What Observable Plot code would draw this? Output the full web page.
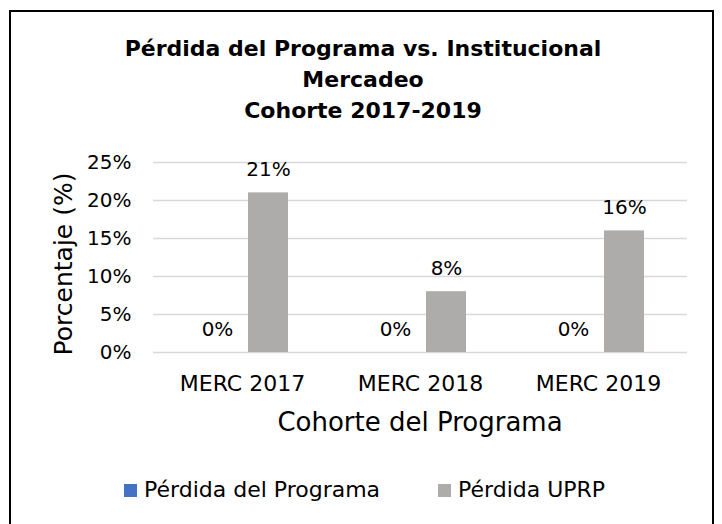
<!DOCTYPE html>
<html>
<head>
<meta charset="utf-8">
<script src="https://cdn.jsdelivr.net/npm/d3@7"></script>
<script src="https://cdn.jsdelivr.net/npm/@observablehq/plot@0.6"></script>
<style>
  html, body { margin: 0; padding: 0; background: #fff; }
  #wrap { position: relative; width: 722px; height: 524px; overflow: hidden; background: #fff; font-family: "DejaVu Sans", sans-serif; color: #000; }
  #frame { position: absolute; left: 9px; top: 10px; width: 705px; height: 600px; box-sizing: border-box; border: 2px solid #000; }
  #title { position: absolute; left: 63px; width: 600px; top: 33px; text-align: center; font-weight: bold; font-size: 22px; line-height: 31px; }
  #chart { position: absolute; left: 0; top: 130px; }
  #ytitle { position: absolute; left: 63px; top: 264px; transform: translate(-50%, -50%) rotate(-90deg); font-size: 25px; line-height: 25px; white-space: nowrap; }
  #xtitle { position: absolute; left: 120px; width: 600px; top: 409px; text-align: center; font-size: 26px; line-height: 26px; white-space: nowrap; }
  .leg { position: absolute; top: 479px; font-size: 22px; line-height: 22px; white-space: nowrap; }
  .sw { display: inline-block; width: 13px; height: 13px; margin-right: 7px; vertical-align: baseline; }
</style>
</head>
<body>
<div id="wrap">
  <div id="frame"></div>
  <div id="title"></div>
  <div id="chart"></div>
  <div id="ytitle"></div>
  <div id="xtitle"></div>
  <div id="legend"></div>
</div>
<script>
// ---- data ----
const titleLines = ["Pérdida del Programa vs. Institucional", "Mercadeo", "Cohorte 2017-2019"];
const categories = ["MERC 2017", "MERC 2018", "MERC 2019"];
const seriesNames = ["Pérdida del Programa", "Pérdida UPRP"];
const perdidaPrograma = [0, 0, 0];
const perdidaUPRP = [21, 8, 16];
const yTicks = [0, 5, 10, 15, 20, 25];
const yTitle = "Porcentaje (%)";
const xTitle = "Cohorte del Programa";
const seriesColors = ["#4472C4", "#AEABAB"];

// ---- table ----
const rows = [];
categories.forEach((c, i) => {
  rows.push({cat: c, series: seriesNames[0], value: perdidaPrograma[i]});
  rows.push({cat: c, series: seriesNames[1], value: perdidaUPRP[i]});
});

document.getElementById("title").innerHTML = titleLines.map(t => `<div>${t}</div>`).join("");
document.getElementById("ytitle").textContent = yTitle;
document.getElementById("xtitle").textContent = xTitle;

const legend = document.getElementById("legend");
const legLeft = [124, 438];
seriesNames.forEach((s, i) => {
  const d = document.createElement("div");
  d.className = "leg";
  d.style.left = legLeft[i] + "px";
  d.innerHTML = `<span class="sw" style="background:${seriesColors[i]}"></span>${s}`;
  legend.appendChild(d);
});

const chart = Plot.plot({
  width: 722,
  height: 320,
  marginTop: 32,
  marginBottom: 98,
  marginLeft: 153,
  marginRight: 35,
  style: {fontFamily: "DejaVu Sans, sans-serif", fontSize: "20px", color: "#000", background: "transparent", overflow: "visible"},
  fx: {domain: categories, padding: 0, label: null},
  x: {domain: seriesNames, paddingInner: 0.216, paddingOuter: 0.853, axis: null},
  y: {domain: [0, 25], label: null},
  color: {domain: seriesNames, range: seriesColors},
  marks: [
    Plot.gridY(yTicks, {stroke: "#D9D9D9", strokeOpacity: 1, strokeWidth: 1.6}),
    Plot.axisY(yTicks, {tickSize: 0, tickPadding: 22, tickFormat: d => d + "%", fontSize: 20, label: null}),
    Plot.axisFx({anchor: "bottom", tickSize: 0, tickPadding: 23, fontSize: 22, label: null}),
    Plot.barY(rows, {fx: "cat", x: "series", y: "value", fill: "series"}),
    Plot.text(rows, {fx: "cat", x: "series", y: "value", text: d => d.value + "%", dy: -17, lineAnchor: "bottom", fontSize: 20, fill: "#000"})
  ]
});
document.getElementById("chart").appendChild(chart);
</script>
</body>
</html>
